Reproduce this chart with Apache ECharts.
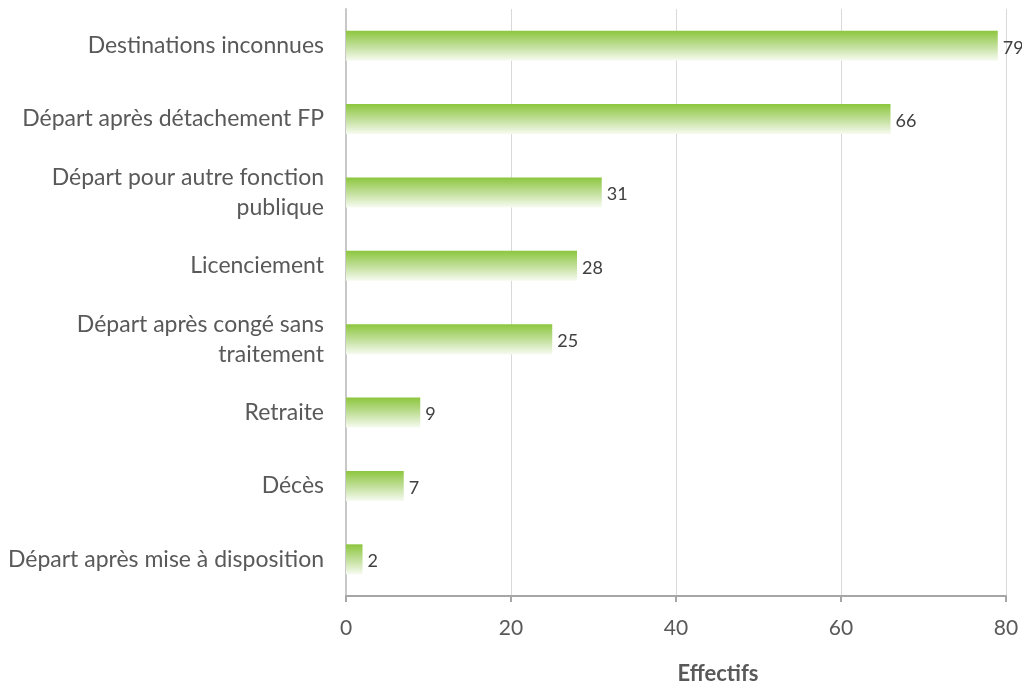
<!DOCTYPE html>
<html>
<head>
<meta charset="utf-8">
<script src="https://cdn.jsdelivr.net/npm/echarts@6/dist/echarts.min.js"></script>
<style>
html,body{margin:0;padding:0;background:#fff;}
#chart{width:1022px;height:683px;}
</style>
</head>
<body>
<div id="chart"></div>
<script>
// Motifs de départ, du plus au moins fréquent
const categories = [
  'Destinations inconnues',
  'Départ après détachement FP',
  'Départ pour autre fonction\npublique',
  'Licenciement',
  'Départ après congé sans\ntraitement',
  'Retraite',
  'Décès',
  'Départ après mise à disposition'
];
const effectifs = [79, 66, 31, 28, 25, 9, 7, 2];
const axisTicks = [0, 20, 40, 60, 80];
const axisTitle = 'Effectifs';

const FONT = 'Lato, "Open Sans", sans-serif';
const chart = echarts.init(document.getElementById('chart'));

chart.setOption({
  animation: false,
  backgroundColor: '#ffffff',
  textStyle: { fontFamily: FONT },
  grid: { left: 346, right: 16, top: 9, bottom: 87, containLabel: false, outerBoundsMode: 'none' },
  xAxis: {
    type: 'value',
    min: axisTicks[0],
    max: axisTicks[axisTicks.length - 1],
    interval: axisTicks[1] - axisTicks[0],
    name: axisTitle,
    nameLocation: 'middle',
    nameGap: 67,
    nameTextStyle: { fontFamily: FONT, fontSize: 22, fontWeight: 'bold', color: '#595959', padding: [0, 0, 0, 84] },
    axisLine: { show: true, lineStyle: { color: '#a6a6a6', width: 2 } },
    axisTick: { show: true, length: 6, lineStyle: { color: '#a6a6a6', width: 2 } },
    axisLabel: { fontFamily: FONT, fontSize: 21, color: '#595959', margin: 22 },
    splitLine: { show: true, lineStyle: { color: '#d9d9d9', width: 1 } }
  },
  yAxis: {
    type: 'category',
    inverse: true,
    data: categories,
    axisLine: { show: true, lineStyle: { color: '#c8c8c8', width: 2 } },
    axisTick: { show: false },
    axisLabel: {
      fontFamily: FONT, fontSize: 23, color: '#595959', margin: 22,
      align: 'right', lineHeight: 30
    }
  },
  series: [{
    type: 'bar',
    data: effectifs,
    barWidth: 30,
    itemStyle: {
      color: new echarts.graphic.LinearGradient(0, 0, 0, 1, [
        { offset: 0, color: '#8cc63e' },
        { offset: 0.55, color: '#c5e1a0' },
        { offset: 1, color: '#f7fbf1' }
      ])
    },
    label: {
      show: true,
      position: 'right',
      distance: 5,
      fontFamily: FONT,
      fontSize: 18,
      color: '#404040',
      offset: [0, 2]
    }
  }]
});
</script>
</body>
</html>
